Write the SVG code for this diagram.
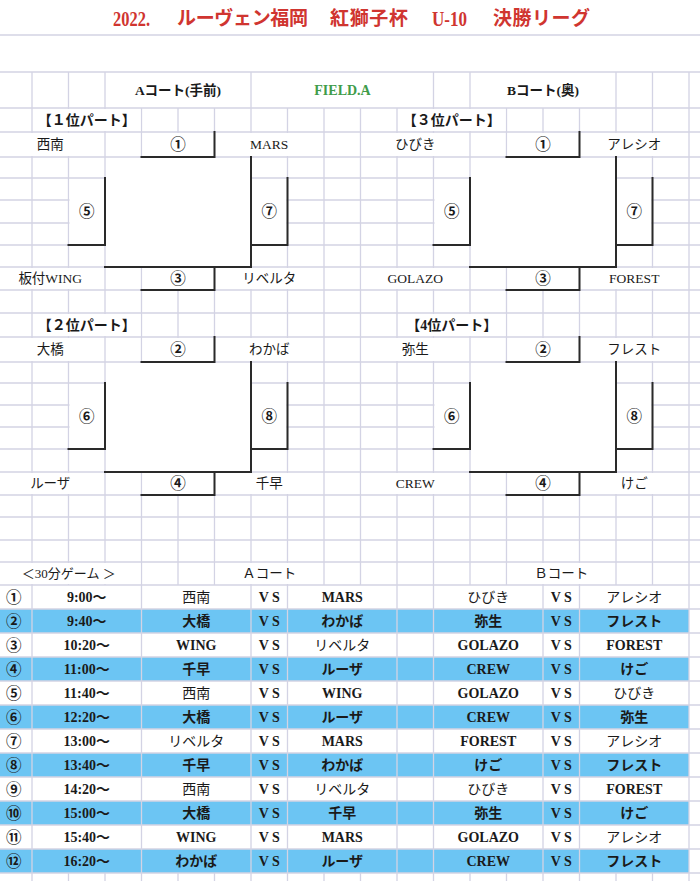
<svg xmlns="http://www.w3.org/2000/svg" width="700" height="881" viewBox="0 0 700 881">
<style>
.g{stroke:#d3d3e4;stroke-width:1.3;fill:none}
.k{stroke:#2a2a2a;stroke-width:2;fill:none;stroke-linecap:square}
.w{fill:#ffffff}
.b{fill:#6cc5f3}
text{font-family:"Liberation Serif","Noto Sans CJK JP",serif;fill:#1a1a1a;text-anchor:middle;dominant-baseline:central}
.lb{font-size:13.5px}
.n{font-size:15.5px;font-weight:bold}
.h{font-size:13.5px;font-weight:bold}
.p{font-size:14px;font-weight:bold}
.tt{font-size:14px}
.tb{font-size:14px;font-weight:bold}
.ti{font-size:19px;font-weight:bold;fill:#d03530;text-anchor:start}
.tl{font-size:21px}
</style>
<rect x="0" y="0" width="700" height="881" fill="#ffffff"/>
<g id="blue-rows">
<rect class="b" x="0" y="609" width="689" height="24"/>
<rect class="b" x="0" y="657" width="689" height="24"/>
<rect class="b" x="0" y="705" width="689" height="24"/>
<rect class="b" x="0" y="753" width="689" height="24"/>
<rect class="b" x="0" y="801" width="689" height="24"/>
<rect class="b" x="0" y="849" width="689" height="24"/>
</g>
<g id="grid">
<path class="g" d="M0,35H700M0,72H700M0,108H700M0,132H700M0,157H700M0,178H700M0,200H700M0,223H700M0,245H700M0,267H700M0,290H700M0,313H700M0,337H700M0,362H700M0,383H700M0,405H700M0,427H700M0,449H700M0,472H700M0,495H700M0,517H700M0,540H700M0,562H700M0,585H700M0,609H700M0,633H700M0,657H700M0,681H700M0,705H700M0,729H700M0,753H700M0,777H700M0,801H700M0,825H700M0,849H700M0,873H700"/>
<path class="g" d="M32,72V108M68.5,72V108M105,72V108M251,72V108M433.5,72V108M470,72V108M616,72V108M652.5,72V108M689,72V108"/>
<path class="g" d="M32,108V585M68.5,108V585M105,108V585M141.5,108V585M178,108V585M214.5,108V585M251,108V585M287.5,108V585M324,108V585M360.5,108V585M397,108V585M433.5,108V585M470,108V585M506.5,108V585M543,108V585M579.5,108V585M616,108V585M652.5,108V585M689,108V585"/>
<path class="g" d="M32,585V873M141.5,585V873M251,585V873M287.5,585V873M397,585V873M433.5,585V873M543,585V873M579.5,585V873M689,585V873"/>
<path class="g" d="M32,873V881M68.5,873V881M105,873V881M141.5,873V881M178,873V881M214.5,873V881M251,873V881M287.5,873V881M324,873V881M360.5,873V881M397,873V881M433.5,873V881M470,873V881M506.5,873V881M543,873V881M579.5,873V881M616,873V881M652.5,873V881M689,873V881"/>
</g>
<g id="merged-cells">
<rect class="w" x="33" y="109" width="107.5" height="22"/>
<rect class="w" x="0" y="133" width="104" height="23"/>
<rect class="w" x="142.5" y="133" width="71" height="23"/>
<rect class="w" x="215.5" y="133" width="107.5" height="23"/>
<rect class="w" x="106" y="158" width="144" height="108"/>
<rect class="w" x="69.5" y="179" width="34.5" height="65"/>
<rect class="w" x="252" y="179" width="34.5" height="65"/>
<rect class="w" x="0" y="268" width="104" height="21"/>
<rect class="w" x="142.5" y="268" width="71" height="21"/>
<rect class="w" x="215.5" y="268" width="107.5" height="21"/>
<rect class="w" x="398" y="109" width="107.5" height="22"/>
<rect class="w" x="361.5" y="133" width="107.5" height="23"/>
<rect class="w" x="507.5" y="133" width="71" height="23"/>
<rect class="w" x="580.5" y="133" width="107.5" height="23"/>
<rect class="w" x="471" y="158" width="144" height="108"/>
<rect class="w" x="434.5" y="179" width="34.5" height="65"/>
<rect class="w" x="617" y="179" width="34.5" height="65"/>
<rect class="w" x="361.5" y="268" width="107.5" height="21"/>
<rect class="w" x="507.5" y="268" width="71" height="21"/>
<rect class="w" x="580.5" y="268" width="107.5" height="21"/>
<rect class="w" x="33" y="314" width="107.5" height="22"/>
<rect class="w" x="0" y="338" width="104" height="23"/>
<rect class="w" x="142.5" y="338" width="71" height="23"/>
<rect class="w" x="215.5" y="338" width="107.5" height="23"/>
<rect class="w" x="106" y="363" width="144" height="108"/>
<rect class="w" x="69.5" y="384" width="34.5" height="64"/>
<rect class="w" x="252" y="384" width="34.5" height="64"/>
<rect class="w" x="0" y="473" width="104" height="21"/>
<rect class="w" x="142.5" y="473" width="71" height="21"/>
<rect class="w" x="215.5" y="473" width="107.5" height="21"/>
<rect class="w" x="398" y="314" width="107.5" height="22"/>
<rect class="w" x="361.5" y="338" width="107.5" height="23"/>
<rect class="w" x="507.5" y="338" width="71" height="23"/>
<rect class="w" x="580.5" y="338" width="107.5" height="23"/>
<rect class="w" x="471" y="363" width="144" height="108"/>
<rect class="w" x="434.5" y="384" width="34.5" height="64"/>
<rect class="w" x="617" y="384" width="34.5" height="64"/>
<rect class="w" x="361.5" y="473" width="107.5" height="21"/>
<rect class="w" x="507.5" y="473" width="71" height="21"/>
<rect class="w" x="580.5" y="473" width="107.5" height="21"/>
<rect class="w" x="0" y="563" width="140.5" height="21"/>
<rect class="w" x="215.5" y="563" width="107.5" height="21"/>
<rect class="w" x="507.5" y="563" width="107.5" height="21"/>
</g>
<g id="connectors">
<path class="k" d="M214.5,132V157H141.5M251,157V267H105M214.5,267V290H141.5M105,178V245H68.5M287.5,178V245H251"/>
<path class="k" d="M579.5,132V157H506.5M616,157V267H470M579.5,267V290H506.5M470,178V245H433.5M652.5,178V245H616"/>
<path class="k" d="M214.5,337V362H141.5M251,362V472H105M214.5,472V495H141.5M105,383V449H68.5M287.5,383V449H251"/>
<path class="k" d="M579.5,337V362H506.5M616,362V472H470M579.5,472V495H506.5M470,383V449H433.5M652.5,383V449H616"/>
</g>
<g id="title">
<text class="ti tl" x="113" y="18.5" textLength="37" lengthAdjust="spacingAndGlyphs">2022.</text>
<text class="ti" x="177" y="18.5" textLength="131">ルーヴェン福岡</text>
<text class="ti" x="330" y="18.5" textLength="78">紅獅子杯</text>
<text class="ti tl" x="432" y="18.5" textLength="35" lengthAdjust="spacingAndGlyphs">U-10</text>
<text class="ti" x="493" y="18.5" textLength="97">決勝リーグ</text>
</g>
<g id="header">
<text class="h" x="178" y="90">Aコート(手前)</text>
<text class="h" x="342.5" y="90" style="fill:#3f9c4a;font-size:14px">FIELD.A</text>
<text class="h" x="543" y="90">Bコート(奥)</text>
</g>
<g id="part1">
<text class="p" x="86.75" y="120">【１位パート】</text>
<text class="lb" x="50.25" y="144.5">西南</text>
<text class="n" x="178" y="144.5">①</text>
<text class="lb" x="269.25" y="144.5">MARS</text>
<text class="n" x="86.75" y="211.5">⑤</text>
<text class="n" x="269.25" y="211.5">⑦</text>
<text class="lb" x="50.25" y="278.5">板付WING</text>
<text class="n" x="178" y="278.5">③</text>
<text class="lb" x="269.25" y="278.5">リベルタ</text>
</g>
<g id="part3">
<text class="p" x="451.75" y="120">【３位パート】</text>
<text class="lb" x="415.25" y="144.5">ひびき</text>
<text class="n" x="543" y="144.5">①</text>
<text class="lb" x="634.25" y="144.5">アレシオ</text>
<text class="n" x="451.75" y="211.5">⑤</text>
<text class="n" x="634.25" y="211.5">⑦</text>
<text class="lb" x="415.25" y="278.5">GOLAZO</text>
<text class="n" x="543" y="278.5">③</text>
<text class="lb" x="634.25" y="278.5">FOREST</text>
</g>
<g id="part2">
<text class="p" x="86.75" y="325">【２位パート】</text>
<text class="lb" x="50.25" y="349.5">大橋</text>
<text class="n" x="178" y="349.5">②</text>
<text class="lb" x="269.25" y="349.5">わかば</text>
<text class="n" x="86.75" y="416">⑥</text>
<text class="n" x="269.25" y="416">⑧</text>
<text class="lb" x="50.25" y="483.5">ルーザ</text>
<text class="n" x="178" y="483.5">④</text>
<text class="lb" x="269.25" y="483.5">千早</text>
</g>
<g id="part4">
<text class="p" x="451.75" y="325">【4位パート】</text>
<text class="lb" x="415.25" y="349.5">弥生</text>
<text class="n" x="543" y="349.5">②</text>
<text class="lb" x="634.25" y="349.5">フレスト</text>
<text class="n" x="451.75" y="416">⑥</text>
<text class="n" x="634.25" y="416">⑧</text>
<text class="lb" x="415.25" y="483.5">CREW</text>
<text class="n" x="543" y="483.5">④</text>
<text class="lb" x="634.25" y="483.5">けご</text>
</g>
<g id="schedule-head">
<text class="tt" x="68.75" y="573.5" style="font-size:13px">＜30分ゲーム ＞</text>
<text class="tt" x="269.25" y="573.5" style="font-size:13.5px">Ａコート</text>
<text class="tt" x="561.25" y="573.5" style="font-size:13.5px">Ｂコート</text>
</g>
<g id="schedule">
<text class="n" x="13.75" y="597">①</text><text class="tb" x="86.75" y="597">9:00～</text><text class="tt" x="196.25" y="597">西南</text><text class="tb" x="269.25" y="597">V S</text><text class="tb" x="342.25" y="597">MARS</text><text class="tt" x="488.25" y="597">ひびき</text><text class="tb" x="561.25" y="597">V S</text><text class="tt" x="634.25" y="597">アレシオ</text>
<text class="n" x="13.75" y="621">②</text><text class="tb" x="86.75" y="621">9:40～</text><text class="tb" x="196.25" y="621">大橋</text><text class="tb" x="269.25" y="621">V S</text><text class="tb" x="342.25" y="621">わかば</text><text class="tb" x="488.25" y="621">弥生</text><text class="tb" x="561.25" y="621">V S</text><text class="tb" x="634.25" y="621">フレスト</text>
<text class="n" x="13.75" y="645">③</text><text class="tb" x="86.75" y="645">10:20～</text><text class="tb" x="196.25" y="645">WING</text><text class="tb" x="269.25" y="645">V S</text><text class="tt" x="342.25" y="645">リベルタ</text><text class="tb" x="488.25" y="645">GOLAZO</text><text class="tb" x="561.25" y="645">V S</text><text class="tb" x="634.25" y="645">FOREST</text>
<text class="n" x="13.75" y="669">④</text><text class="tb" x="86.75" y="669">11:00～</text><text class="tb" x="196.25" y="669">千早</text><text class="tb" x="269.25" y="669">V S</text><text class="tb" x="342.25" y="669">ルーザ</text><text class="tb" x="488.25" y="669">CREW</text><text class="tb" x="561.25" y="669">V S</text><text class="tb" x="634.25" y="669">けご</text>
<text class="n" x="13.75" y="693">⑤</text><text class="tb" x="86.75" y="693">11:40～</text><text class="tt" x="196.25" y="693">西南</text><text class="tb" x="269.25" y="693">V S</text><text class="tb" x="342.25" y="693">WING</text><text class="tb" x="488.25" y="693">GOLAZO</text><text class="tb" x="561.25" y="693">V S</text><text class="tt" x="634.25" y="693">ひびき</text>
<text class="n" x="13.75" y="717">⑥</text><text class="tb" x="86.75" y="717">12:20～</text><text class="tb" x="196.25" y="717">大橋</text><text class="tb" x="269.25" y="717">V S</text><text class="tb" x="342.25" y="717">ルーザ</text><text class="tb" x="488.25" y="717">CREW</text><text class="tb" x="561.25" y="717">V S</text><text class="tb" x="634.25" y="717">弥生</text>
<text class="n" x="13.75" y="741">⑦</text><text class="tb" x="86.75" y="741">13:00～</text><text class="tt" x="196.25" y="741">リベルタ</text><text class="tb" x="269.25" y="741">V S</text><text class="tb" x="342.25" y="741">MARS</text><text class="tb" x="488.25" y="741">FOREST</text><text class="tb" x="561.25" y="741">V S</text><text class="tt" x="634.25" y="741">アレシオ</text>
<text class="n" x="13.75" y="765">⑧</text><text class="tb" x="86.75" y="765">13:40～</text><text class="tb" x="196.25" y="765">千早</text><text class="tb" x="269.25" y="765">V S</text><text class="tb" x="342.25" y="765">わかば</text><text class="tb" x="488.25" y="765">けご</text><text class="tb" x="561.25" y="765">V S</text><text class="tb" x="634.25" y="765">フレスト</text>
<text class="n" x="13.75" y="789">⑨</text><text class="tb" x="86.75" y="789">14:20～</text><text class="tt" x="196.25" y="789">西南</text><text class="tb" x="269.25" y="789">V S</text><text class="tt" x="342.25" y="789">リベルタ</text><text class="tt" x="488.25" y="789">ひびき</text><text class="tb" x="561.25" y="789">V S</text><text class="tb" x="634.25" y="789">FOREST</text>
<text class="n" x="13.75" y="813">⑩</text><text class="tb" x="86.75" y="813">15:00～</text><text class="tb" x="196.25" y="813">大橋</text><text class="tb" x="269.25" y="813">V S</text><text class="tb" x="342.25" y="813">千早</text><text class="tb" x="488.25" y="813">弥生</text><text class="tb" x="561.25" y="813">V S</text><text class="tb" x="634.25" y="813">けご</text>
<text class="n" x="13.75" y="837">⑪</text><text class="tb" x="86.75" y="837">15:40～</text><text class="tb" x="196.25" y="837">WING</text><text class="tb" x="269.25" y="837">V S</text><text class="tb" x="342.25" y="837">MARS</text><text class="tb" x="488.25" y="837">GOLAZO</text><text class="tb" x="561.25" y="837">V S</text><text class="tt" x="634.25" y="837">アレシオ</text>
<text class="n" x="13.75" y="861">⑫</text><text class="tb" x="86.75" y="861">16:20～</text><text class="tb" x="196.25" y="861">わかば</text><text class="tb" x="269.25" y="861">V S</text><text class="tb" x="342.25" y="861">ルーザ</text><text class="tb" x="488.25" y="861">CREW</text><text class="tb" x="561.25" y="861">V S</text><text class="tb" x="634.25" y="861">フレスト</text>
</g>
</svg>
